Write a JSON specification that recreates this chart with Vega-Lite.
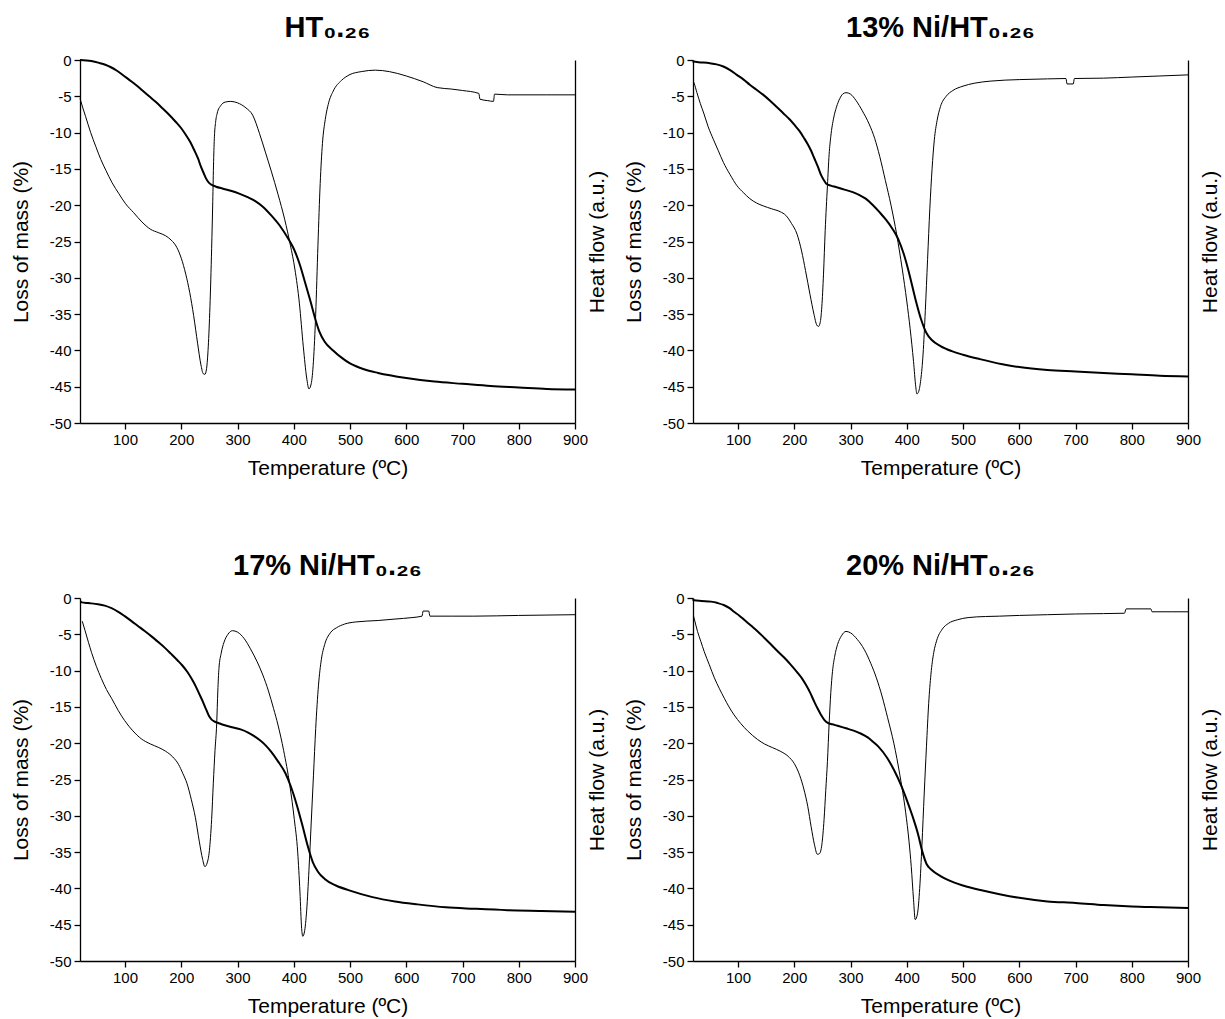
{
  "$schema": "https://vega.github.io/schema/vega-lite/v6.json",
  "background": "white",
  "padding": {"left": 10, "top": 14, "right": 2, "bottom": 2},
  "datasets": {
    "tga": [
      {"panel":"HT0.26","curve":"TG","temperature":20,"value":0},{"panel":"HT0.26","curve":"TG","temperature":40,"value":-0.15},{"panel":"HT0.26","curve":"TG","temperature":54,"value":-0.4},{"panel":"HT0.26","curve":"TG","temperature":65,"value":-0.65},{"panel":"HT0.26","curve":"TG","temperature":75,"value":-1.0},{"panel":"HT0.26","curve":"TG","temperature":85,"value":-1.45},{"panel":"HT0.26","curve":"TG","temperature":95,"value":-2.0},{"panel":"HT0.26","curve":"TG","temperature":107,"value":-2.7},{"panel":"HT0.26","curve":"TG","temperature":119,"value":-3.4},{"panel":"HT0.26","curve":"TG","temperature":131,"value":-4.2},{"panel":"HT0.26","curve":"TG","temperature":143,"value":-5.0},{"panel":"HT0.26","curve":"TG","temperature":155,"value":-5.8},{"panel":"HT0.26","curve":"TG","temperature":166,"value":-6.6},{"panel":"HT0.26","curve":"TG","temperature":178,"value":-7.5},{"panel":"HT0.26","curve":"TG","temperature":190,"value":-8.5},{"panel":"HT0.26","curve":"TG","temperature":200,"value":-9.4},{"panel":"HT0.26","curve":"TG","temperature":208,"value":-10.3},{"panel":"HT0.26","curve":"TG","temperature":216,"value":-11.3},{"panel":"HT0.26","curve":"TG","temperature":223,"value":-12.4},{"panel":"HT0.26","curve":"TG","temperature":230,"value":-13.6},{"panel":"HT0.26","curve":"TG","temperature":235,"value":-14.7},{"panel":"HT0.26","curve":"TG","temperature":240,"value":-15.6},{"panel":"HT0.26","curve":"TG","temperature":244,"value":-16.3},{"panel":"HT0.26","curve":"TG","temperature":249,"value":-16.9},{"panel":"HT0.26","curve":"TG","temperature":253,"value":-17.15},{"panel":"HT0.26","curve":"TG","temperature":262,"value":-17.45},{"panel":"HT0.26","curve":"TG","temperature":273,"value":-17.7},{"panel":"HT0.26","curve":"TG","temperature":288,"value":-18.0},{"panel":"HT0.26","curve":"TG","temperature":303,"value":-18.4},{"panel":"HT0.26","curve":"TG","temperature":318,"value":-18.9},{"panel":"HT0.26","curve":"TG","temperature":333,"value":-19.5},{"panel":"HT0.26","curve":"TG","temperature":345,"value":-20.2},{"panel":"HT0.26","curve":"TG","temperature":360,"value":-21.4},{"panel":"HT0.26","curve":"TG","temperature":375,"value":-22.8},{"panel":"HT0.26","curve":"TG","temperature":390,"value":-24.6},{"panel":"HT0.26","curve":"TG","temperature":400,"value":-26.0},{"panel":"HT0.26","curve":"TG","temperature":410,"value":-28.0},{"panel":"HT0.26","curve":"TG","temperature":420,"value":-30.6},{"panel":"HT0.26","curve":"TG","temperature":430,"value":-33.3},{"panel":"HT0.26","curve":"TG","temperature":438,"value":-35.6},{"panel":"HT0.26","curve":"TG","temperature":445,"value":-37.3},{"panel":"HT0.26","curve":"TG","temperature":455,"value":-38.8},{"panel":"HT0.26","curve":"TG","temperature":470,"value":-40.0},{"panel":"HT0.26","curve":"TG","temperature":485,"value":-41.0},{"panel":"HT0.26","curve":"TG","temperature":500,"value":-41.8},{"panel":"HT0.26","curve":"TG","temperature":525,"value":-42.6},{"panel":"HT0.26","curve":"TG","temperature":550,"value":-43.1},{"panel":"HT0.26","curve":"TG","temperature":600,"value":-43.8},{"panel":"HT0.26","curve":"TG","temperature":650,"value":-44.3},{"panel":"HT0.26","curve":"TG","temperature":700,"value":-44.6},{"panel":"HT0.26","curve":"TG","temperature":750,"value":-44.9},{"panel":"HT0.26","curve":"TG","temperature":800,"value":-45.1},{"panel":"HT0.26","curve":"TG","temperature":850,"value":-45.3},{"panel":"HT0.26","curve":"TG","temperature":900,"value":-45.4},

      {"panel":"HT0.26","curve":"DSC","temperature":20,"value":-5.3},{"panel":"HT0.26","curve":"DSC","temperature":25,"value":-6.6},{"panel":"HT0.26","curve":"DSC","temperature":30,"value":-7.8},{"panel":"HT0.26","curve":"DSC","temperature":39,"value":-10.0},{"panel":"HT0.26","curve":"DSC","temperature":48,"value":-11.9},{"panel":"HT0.26","curve":"DSC","temperature":57,"value":-13.7},{"panel":"HT0.26","curve":"DSC","temperature":66,"value":-15.2},{"panel":"HT0.26","curve":"DSC","temperature":77,"value":-16.9},{"panel":"HT0.26","curve":"DSC","temperature":89,"value":-18.4},{"panel":"HT0.26","curve":"DSC","temperature":101,"value":-19.8},{"panel":"HT0.26","curve":"DSC","temperature":115,"value":-21.0},{"panel":"HT0.26","curve":"DSC","temperature":130,"value":-22.3},{"panel":"HT0.26","curve":"DSC","temperature":145,"value":-23.3},{"panel":"HT0.26","curve":"DSC","temperature":160,"value":-23.8},{"panel":"HT0.26","curve":"DSC","temperature":172,"value":-24.2},{"panel":"HT0.26","curve":"DSC","temperature":182,"value":-24.8},{"panel":"HT0.26","curve":"DSC","temperature":192,"value":-25.8},{"panel":"HT0.26","curve":"DSC","temperature":200,"value":-27.3},{"panel":"HT0.26","curve":"DSC","temperature":208,"value":-29.5},{"panel":"HT0.26","curve":"DSC","temperature":215,"value":-32.0},{"panel":"HT0.26","curve":"DSC","temperature":222,"value":-35.2},{"panel":"HT0.26","curve":"DSC","temperature":229,"value":-39.0},{"panel":"HT0.26","curve":"DSC","temperature":235,"value":-42.0},{"panel":"HT0.26","curve":"DSC","temperature":239,"value":-43.2},{"panel":"HT0.26","curve":"DSC","temperature":242,"value":-43.3},{"panel":"HT0.26","curve":"DSC","temperature":245,"value":-42.5},{"panel":"HT0.26","curve":"DSC","temperature":248,"value":-39.5},{"panel":"HT0.26","curve":"DSC","temperature":251,"value":-34.0},{"panel":"HT0.26","curve":"DSC","temperature":254,"value":-26.0},{"panel":"HT0.26","curve":"DSC","temperature":256,"value":-19.5},{"panel":"HT0.26","curve":"DSC","temperature":257.5,"value":-14.0},{"panel":"HT0.26","curve":"DSC","temperature":259,"value":-10.5},{"panel":"HT0.26","curve":"DSC","temperature":261,"value":-8.6},{"panel":"HT0.26","curve":"DSC","temperature":264,"value":-7.3},{"panel":"HT0.26","curve":"DSC","temperature":270,"value":-6.3},{"panel":"HT0.26","curve":"DSC","temperature":278,"value":-5.8},{"panel":"HT0.26","curve":"DSC","temperature":288,"value":-5.7},{"panel":"HT0.26","curve":"DSC","temperature":300,"value":-5.9},{"panel":"HT0.26","curve":"DSC","temperature":315,"value":-6.6},{"panel":"HT0.26","curve":"DSC","temperature":327,"value":-7.6},{"panel":"HT0.26","curve":"DSC","temperature":339,"value":-10.1},{"panel":"HT0.26","curve":"DSC","temperature":350,"value":-12.8},{"panel":"HT0.26","curve":"DSC","temperature":360,"value":-15.3},{"panel":"HT0.26","curve":"DSC","temperature":372,"value":-18.5},{"panel":"HT0.26","curve":"DSC","temperature":384,"value":-22.0},{"panel":"HT0.26","curve":"DSC","temperature":394,"value":-25.5},{"panel":"HT0.26","curve":"DSC","temperature":402,"value":-28.8},{"panel":"HT0.26","curve":"DSC","temperature":410,"value":-33.5},{"panel":"HT0.26","curve":"DSC","temperature":417,"value":-39.5},{"panel":"HT0.26","curve":"DSC","temperature":423,"value":-43.8},{"panel":"HT0.26","curve":"DSC","temperature":427,"value":-45.3},{"panel":"HT0.26","curve":"DSC","temperature":431,"value":-44.6},{"panel":"HT0.26","curve":"DSC","temperature":435,"value":-41.5},{"panel":"HT0.26","curve":"DSC","temperature":439,"value":-35.0},{"panel":"HT0.26","curve":"DSC","temperature":443,"value":-25.5},{"panel":"HT0.26","curve":"DSC","temperature":447,"value":-17.0},{"panel":"HT0.26","curve":"DSC","temperature":451,"value":-11.5},{"panel":"HT0.26","curve":"DSC","temperature":456,"value":-8.2},{"panel":"HT0.26","curve":"DSC","temperature":462,"value":-5.9},{"panel":"HT0.26","curve":"DSC","temperature":470,"value":-4.3},{"panel":"HT0.26","curve":"DSC","temperature":485,"value":-2.8},{"panel":"HT0.26","curve":"DSC","temperature":500,"value":-2.0},{"panel":"HT0.26","curve":"DSC","temperature":520,"value":-1.6},{"panel":"HT0.26","curve":"DSC","temperature":545,"value":-1.4},{"panel":"HT0.26","curve":"DSC","temperature":570,"value":-1.6},{"panel":"HT0.26","curve":"DSC","temperature":600,"value":-2.2},{"panel":"HT0.26","curve":"DSC","temperature":630,"value":-3.0},{"panel":"HT0.26","curve":"DSC","temperature":655,"value":-3.8},{"panel":"HT0.26","curve":"DSC","temperature":680,"value":-4.0},{"panel":"HT0.26","curve":"DSC","temperature":700,"value":-4.2},{"panel":"HT0.26","curve":"DSC","temperature":729,"value":-4.6},{"panel":"HT0.26","curve":"DSC","temperature":731,"value":-5.4},{"panel":"HT0.26","curve":"DSC","temperature":745,"value":-5.6},{"panel":"HT0.26","curve":"DSC","temperature":755,"value":-5.7},{"panel":"HT0.26","curve":"DSC","temperature":757,"value":-4.7},{"panel":"HT0.26","curve":"DSC","temperature":780,"value":-4.8},{"panel":"HT0.26","curve":"DSC","temperature":850,"value":-4.8},{"panel":"HT0.26","curve":"DSC","temperature":900,"value":-4.8},

      {"panel":"13","curve":"TG","temperature":19,"value":-0.2},{"panel":"13","curve":"TG","temperature":30,"value":-0.3},{"panel":"13","curve":"TG","temperature":50,"value":-0.45},{"panel":"13","curve":"TG","temperature":62,"value":-0.6},{"panel":"13","curve":"TG","temperature":74,"value":-0.9},{"panel":"13","curve":"TG","temperature":86,"value":-1.4},{"panel":"13","curve":"TG","temperature":98,"value":-2.05},{"panel":"13","curve":"TG","temperature":110,"value":-2.7},{"panel":"13","curve":"TG","temperature":121,"value":-3.4},{"panel":"13","curve":"TG","temperature":133,"value":-4.1},{"panel":"13","curve":"TG","temperature":145,"value":-4.8},{"panel":"13","curve":"TG","temperature":157,"value":-5.6},{"panel":"13","curve":"TG","temperature":168,"value":-6.4},{"panel":"13","curve":"TG","temperature":180,"value":-7.3},{"panel":"13","curve":"TG","temperature":192,"value":-8.2},{"panel":"13","curve":"TG","temperature":201,"value":-9.0},{"panel":"13","curve":"TG","temperature":209.5,"value":-9.8},{"panel":"13","curve":"TG","temperature":217,"value":-10.7},{"panel":"13","curve":"TG","temperature":224,"value":-11.6},{"panel":"13","curve":"TG","temperature":230,"value":-12.5},{"panel":"13","curve":"TG","temperature":236,"value":-13.6},{"panel":"13","curve":"TG","temperature":242,"value":-14.7},{"panel":"13","curve":"TG","temperature":248,"value":-15.9},{"panel":"13","curve":"TG","temperature":253,"value":-16.6},{"panel":"13","curve":"TG","temperature":257,"value":-17.05},{"panel":"13","curve":"TG","temperature":265,"value":-17.3},{"panel":"13","curve":"TG","temperature":274,"value":-17.5},{"panel":"13","curve":"TG","temperature":289,"value":-17.85},{"panel":"13","curve":"TG","temperature":304,"value":-18.2},{"panel":"13","curve":"TG","temperature":316,"value":-18.6},{"panel":"13","curve":"TG","temperature":327,"value":-19.1},{"panel":"13","curve":"TG","temperature":340,"value":-20.0},{"panel":"13","curve":"TG","temperature":352,"value":-21.0},{"panel":"13","curve":"TG","temperature":363,"value":-22.0},{"panel":"13","curve":"TG","temperature":375,"value":-23.3},{"panel":"13","curve":"TG","temperature":385,"value":-24.7},{"panel":"13","curve":"TG","temperature":395,"value":-26.8},{"panel":"13","curve":"TG","temperature":405,"value":-29.6},{"panel":"13","curve":"TG","temperature":415,"value":-32.8},{"panel":"13","curve":"TG","temperature":425,"value":-35.6},{"panel":"13","curve":"TG","temperature":435,"value":-37.6},{"panel":"13","curve":"TG","temperature":445,"value":-38.6},{"panel":"13","curve":"TG","temperature":460,"value":-39.4},{"panel":"13","curve":"TG","temperature":480,"value":-40.1},{"panel":"13","curve":"TG","temperature":500,"value":-40.6},{"panel":"13","curve":"TG","temperature":530,"value":-41.2},{"panel":"13","curve":"TG","temperature":570,"value":-41.9},{"panel":"13","curve":"TG","temperature":600,"value":-42.3},{"panel":"13","curve":"TG","temperature":650,"value":-42.7},{"panel":"13","curve":"TG","temperature":700,"value":-42.9},{"panel":"13","curve":"TG","temperature":750,"value":-43.1},{"panel":"13","curve":"TG","temperature":800,"value":-43.3},{"panel":"13","curve":"TG","temperature":850,"value":-43.5},{"panel":"13","curve":"TG","temperature":900,"value":-43.6},

      {"panel":"13","curve":"DSC","temperature":21,"value":-3.0},{"panel":"13","curve":"DSC","temperature":22,"value":-3.2},{"panel":"13","curve":"DSC","temperature":27,"value":-4.5},{"panel":"13","curve":"DSC","temperature":33,"value":-6.0},{"panel":"13","curve":"DSC","temperature":39,"value":-7.3},{"panel":"13","curve":"DSC","temperature":47,"value":-9.2},{"panel":"13","curve":"DSC","temperature":56,"value":-10.9},{"panel":"13","curve":"DSC","temperature":65,"value":-12.5},{"panel":"13","curve":"DSC","temperature":74,"value":-14.1},{"panel":"13","curve":"DSC","temperature":86,"value":-15.8},{"panel":"13","curve":"DSC","temperature":98,"value":-17.3},{"panel":"13","curve":"DSC","temperature":110,"value":-18.3},{"panel":"13","curve":"DSC","temperature":121,"value":-19.1},{"panel":"13","curve":"DSC","temperature":133,"value":-19.7},{"panel":"13","curve":"DSC","temperature":145,"value":-20.1},{"panel":"13","curve":"DSC","temperature":160,"value":-20.5},{"panel":"13","curve":"DSC","temperature":175,"value":-20.9},{"panel":"13","curve":"DSC","temperature":185,"value":-21.4},{"panel":"13","curve":"DSC","temperature":195,"value":-22.5},{"panel":"13","curve":"DSC","temperature":205,"value":-24.0},{"panel":"13","curve":"DSC","temperature":213,"value":-26.3},{"panel":"13","curve":"DSC","temperature":220,"value":-29.0},{"panel":"13","curve":"DSC","temperature":228,"value":-32.3},{"panel":"13","curve":"DSC","temperature":235,"value":-35.0},{"panel":"13","curve":"DSC","temperature":240,"value":-36.5},{"panel":"13","curve":"DSC","temperature":243,"value":-36.7},{"panel":"13","curve":"DSC","temperature":246,"value":-36.2},{"panel":"13","curve":"DSC","temperature":249,"value":-34.0},{"panel":"13","curve":"DSC","temperature":252,"value":-29.5},{"panel":"13","curve":"DSC","temperature":255,"value":-23.5},{"panel":"13","curve":"DSC","temperature":259,"value":-17.3},{"panel":"13","curve":"DSC","temperature":262,"value":-13.0},{"panel":"13","curve":"DSC","temperature":265,"value":-10.5},{"panel":"13","curve":"DSC","temperature":270,"value":-8.0},{"panel":"13","curve":"DSC","temperature":275,"value":-6.5},{"panel":"13","curve":"DSC","temperature":281,"value":-5.3},{"panel":"13","curve":"DSC","temperature":286,"value":-4.7},{"panel":"13","curve":"DSC","temperature":292,"value":-4.5},{"panel":"13","curve":"DSC","temperature":300,"value":-4.7},{"panel":"13","curve":"DSC","temperature":310,"value":-5.6},{"panel":"13","curve":"DSC","temperature":321,"value":-7.0},{"panel":"13","curve":"DSC","temperature":333,"value":-8.8},{"panel":"13","curve":"DSC","temperature":343,"value":-10.8},{"panel":"13","curve":"DSC","temperature":352,"value":-13.3},{"panel":"13","curve":"DSC","temperature":362,"value":-16.6},{"panel":"13","curve":"DSC","temperature":372,"value":-20.0},{"panel":"13","curve":"DSC","temperature":382,"value":-24.0},{"panel":"13","curve":"DSC","temperature":392,"value":-28.8},{"panel":"13","curve":"DSC","temperature":400,"value":-33.2},{"panel":"13","curve":"DSC","temperature":406,"value":-37.0},{"panel":"13","curve":"DSC","temperature":412,"value":-41.5},{"panel":"13","curve":"DSC","temperature":416,"value":-45.0},{"panel":"13","curve":"DSC","temperature":418,"value":-46.0},{"panel":"13","curve":"DSC","temperature":421,"value":-45.7},{"panel":"13","curve":"DSC","temperature":425,"value":-44.0},{"panel":"13","curve":"DSC","temperature":429,"value":-40.5},{"panel":"13","curve":"DSC","temperature":433,"value":-34.5},{"panel":"13","curve":"DSC","temperature":437,"value":-27.5},{"panel":"13","curve":"DSC","temperature":441,"value":-20.5},{"panel":"13","curve":"DSC","temperature":445,"value":-15.0},{"panel":"13","curve":"DSC","temperature":449,"value":-11.0},{"panel":"13","curve":"DSC","temperature":454,"value":-8.3},{"panel":"13","curve":"DSC","temperature":460,"value":-6.4},{"panel":"13","curve":"DSC","temperature":470,"value":-5.0},{"panel":"13","curve":"DSC","temperature":482,"value":-4.2},{"panel":"13","curve":"DSC","temperature":500,"value":-3.6},{"panel":"13","curve":"DSC","temperature":520,"value":-3.2},{"panel":"13","curve":"DSC","temperature":550,"value":-2.9},{"panel":"13","curve":"DSC","temperature":600,"value":-2.7},{"panel":"13","curve":"DSC","temperature":650,"value":-2.6},{"panel":"13","curve":"DSC","temperature":683,"value":-2.55},{"panel":"13","curve":"DSC","temperature":685,"value":-3.3},{"panel":"13","curve":"DSC","temperature":696,"value":-3.3},{"panel":"13","curve":"DSC","temperature":698,"value":-2.55},{"panel":"13","curve":"DSC","temperature":750,"value":-2.5},{"panel":"13","curve":"DSC","temperature":800,"value":-2.35},{"panel":"13","curve":"DSC","temperature":850,"value":-2.2},{"panel":"13","curve":"DSC","temperature":900,"value":-2.05},

      {"panel":"17","curve":"TG","temperature":21,"value":-0.45},{"panel":"17","curve":"TG","temperature":23,"value":-0.6},{"panel":"17","curve":"TG","temperature":35,"value":-0.7},{"panel":"17","curve":"TG","temperature":52,"value":-0.85},{"panel":"17","curve":"TG","temperature":64,"value":-1.05},{"panel":"17","curve":"TG","temperature":76,"value":-1.4},{"panel":"17","curve":"TG","temperature":88,"value":-1.9},{"panel":"17","curve":"TG","temperature":99.5,"value":-2.5},{"panel":"17","curve":"TG","temperature":111,"value":-3.15},{"panel":"17","curve":"TG","temperature":123,"value":-3.85},{"panel":"17","curve":"TG","temperature":135,"value":-4.55},{"panel":"17","curve":"TG","temperature":146.5,"value":-5.25},{"panel":"17","curve":"TG","temperature":158,"value":-6.0},{"panel":"17","curve":"TG","temperature":170,"value":-6.8},{"panel":"17","curve":"TG","temperature":182,"value":-7.7},{"panel":"17","curve":"TG","temperature":193.6,"value":-8.6},{"panel":"17","curve":"TG","temperature":202,"value":-9.3},{"panel":"17","curve":"TG","temperature":211,"value":-10.2},{"panel":"17","curve":"TG","temperature":219,"value":-11.2},{"panel":"17","curve":"TG","temperature":226,"value":-12.2},{"panel":"17","curve":"TG","temperature":232,"value":-13.2},{"panel":"17","curve":"TG","temperature":238,"value":-14.2},{"panel":"17","curve":"TG","temperature":244,"value":-15.3},{"panel":"17","curve":"TG","temperature":249.6,"value":-16.3},{"panel":"17","curve":"TG","temperature":254,"value":-16.75},{"panel":"17","curve":"TG","temperature":258.5,"value":-17.0},{"panel":"17","curve":"TG","temperature":267,"value":-17.25},{"panel":"17","curve":"TG","temperature":276,"value":-17.5},{"panel":"17","curve":"TG","temperature":290,"value":-17.8},{"panel":"17","curve":"TG","temperature":305.5,"value":-18.1},{"panel":"17","curve":"TG","temperature":318,"value":-18.5},{"panel":"17","curve":"TG","temperature":329,"value":-19.0},{"panel":"17","curve":"TG","temperature":340,"value":-19.6},{"panel":"17","curve":"TG","temperature":350,"value":-20.3},{"panel":"17","curve":"TG","temperature":360,"value":-21.2},{"panel":"17","curve":"TG","temperature":372,"value":-22.5},{"panel":"17","curve":"TG","temperature":385,"value":-24.1},{"panel":"17","curve":"TG","temperature":395,"value":-26.0},{"panel":"17","curve":"TG","temperature":405,"value":-28.4},{"panel":"17","curve":"TG","temperature":415,"value":-31.2},{"panel":"17","curve":"TG","temperature":425,"value":-34.2},{"panel":"17","curve":"TG","temperature":434,"value":-36.4},{"panel":"17","curve":"TG","temperature":443,"value":-37.7},{"panel":"17","curve":"TG","temperature":455,"value":-38.7},{"panel":"17","curve":"TG","temperature":475,"value":-39.6},{"panel":"17","curve":"TG","temperature":500,"value":-40.3},{"panel":"17","curve":"TG","temperature":540,"value":-41.2},{"panel":"17","curve":"TG","temperature":580,"value":-41.8},{"panel":"17","curve":"TG","temperature":620,"value":-42.2},{"panel":"17","curve":"TG","temperature":670,"value":-42.6},{"panel":"17","curve":"TG","temperature":720,"value":-42.8},{"panel":"17","curve":"TG","temperature":780,"value":-43.0},{"panel":"17","curve":"TG","temperature":840,"value":-43.1},{"panel":"17","curve":"TG","temperature":900,"value":-43.2},

      {"panel":"17","curve":"DSC","temperature":24,"value":-3.2},{"panel":"17","curve":"DSC","temperature":29,"value":-4.5},{"panel":"17","curve":"DSC","temperature":35,"value":-6.1},{"panel":"17","curve":"DSC","temperature":40.5,"value":-7.5},{"panel":"17","curve":"DSC","temperature":49,"value":-9.4},{"panel":"17","curve":"DSC","temperature":58,"value":-11.1},{"panel":"17","curve":"DSC","temperature":67,"value":-12.6},{"panel":"17","curve":"DSC","temperature":76,"value":-13.8},{"panel":"17","curve":"DSC","temperature":88,"value":-15.5},{"panel":"17","curve":"DSC","temperature":99.5,"value":-16.9},{"panel":"17","curve":"DSC","temperature":114,"value":-18.3},{"panel":"17","curve":"DSC","temperature":129,"value":-19.4},{"panel":"17","curve":"DSC","temperature":145,"value":-20.1},{"panel":"17","curve":"DSC","temperature":160,"value":-20.6},{"panel":"17","curve":"DSC","temperature":172,"value":-21.1},{"panel":"17","curve":"DSC","temperature":185,"value":-21.9},{"panel":"17","curve":"DSC","temperature":195,"value":-22.9},{"panel":"17","curve":"DSC","temperature":203,"value":-24.2},{"panel":"17","curve":"DSC","temperature":210,"value":-25.5},{"panel":"17","curve":"DSC","temperature":218,"value":-27.8},{"panel":"17","curve":"DSC","temperature":225,"value":-30.2},{"panel":"17","curve":"DSC","temperature":232,"value":-33.5},{"panel":"17","curve":"DSC","temperature":238,"value":-36.0},{"panel":"17","curve":"DSC","temperature":242,"value":-37.0},{"panel":"17","curve":"DSC","temperature":246,"value":-36.5},{"panel":"17","curve":"DSC","temperature":250,"value":-34.8},{"panel":"17","curve":"DSC","temperature":254,"value":-30.5},{"panel":"17","curve":"DSC","temperature":257,"value":-25.5},{"panel":"17","curve":"DSC","temperature":260,"value":-21.0},{"panel":"17","curve":"DSC","temperature":263,"value":-17.3},{"panel":"17","curve":"DSC","temperature":265,"value":-12.8},{"panel":"17","curve":"DSC","temperature":267,"value":-9.7},{"panel":"17","curve":"DSC","temperature":271,"value":-7.6},{"panel":"17","curve":"DSC","temperature":276,"value":-6.1},{"panel":"17","curve":"DSC","temperature":283,"value":-5.0},{"panel":"17","curve":"DSC","temperature":291,"value":-4.5},{"panel":"17","curve":"DSC","temperature":300,"value":-4.7},{"panel":"17","curve":"DSC","temperature":312,"value":-5.6},{"panel":"17","curve":"DSC","temperature":323,"value":-7.0},{"panel":"17","curve":"DSC","temperature":335,"value":-8.8},{"panel":"17","curve":"DSC","temperature":345,"value":-10.6},{"panel":"17","curve":"DSC","temperature":355,"value":-12.8},{"panel":"17","curve":"DSC","temperature":364,"value":-15.2},{"panel":"17","curve":"DSC","temperature":372,"value":-17.5},{"panel":"17","curve":"DSC","temperature":382,"value":-21.0},{"panel":"17","curve":"DSC","temperature":393,"value":-25.8},{"panel":"17","curve":"DSC","temperature":401,"value":-30.5},{"panel":"17","curve":"DSC","temperature":407,"value":-35.0},{"panel":"17","curve":"DSC","temperature":411,"value":-40.5},{"panel":"17","curve":"DSC","temperature":414,"value":-45.5},{"panel":"17","curve":"DSC","temperature":416,"value":-46.6},{"panel":"17","curve":"DSC","temperature":419,"value":-46.0},{"panel":"17","curve":"DSC","temperature":423,"value":-43.0},{"panel":"17","curve":"DSC","temperature":427,"value":-37.5},{"panel":"17","curve":"DSC","temperature":431,"value":-31.0},{"panel":"17","curve":"DSC","temperature":435,"value":-24.5},{"panel":"17","curve":"DSC","temperature":439,"value":-18.0},{"panel":"17","curve":"DSC","temperature":444,"value":-12.0},{"panel":"17","curve":"DSC","temperature":449,"value":-8.5},{"panel":"17","curve":"DSC","temperature":455,"value":-6.4},{"panel":"17","curve":"DSC","temperature":465,"value":-4.8},{"panel":"17","curve":"DSC","temperature":476,"value":-4.1},{"panel":"17","curve":"DSC","temperature":490,"value":-3.6},{"panel":"17","curve":"DSC","temperature":510,"value":-3.3},{"panel":"17","curve":"DSC","temperature":550,"value":-3.1},{"panel":"17","curve":"DSC","temperature":580,"value":-2.9},{"panel":"17","curve":"DSC","temperature":610,"value":-2.7},{"panel":"17","curve":"DSC","temperature":628,"value":-2.5},{"panel":"17","curve":"DSC","temperature":630,"value":-1.8},{"panel":"17","curve":"DSC","temperature":640,"value":-1.8},{"panel":"17","curve":"DSC","temperature":642,"value":-2.5},{"panel":"17","curve":"DSC","temperature":680,"value":-2.5},{"panel":"17","curve":"DSC","temperature":720,"value":-2.5},{"panel":"17","curve":"DSC","temperature":800,"value":-2.4},{"panel":"17","curve":"DSC","temperature":900,"value":-2.3},

      {"panel":"20","curve":"TG","temperature":19,"value":-0.2},{"panel":"20","curve":"TG","temperature":22,"value":-0.3},{"panel":"20","curve":"TG","temperature":35,"value":-0.4},{"panel":"20","curve":"TG","temperature":52,"value":-0.5},{"panel":"20","curve":"TG","temperature":64,"value":-0.7},{"panel":"20","curve":"TG","temperature":75.6,"value":-1.0},{"panel":"20","curve":"TG","temperature":85,"value":-1.4},{"panel":"20","curve":"TG","temperature":93,"value":-1.9},{"panel":"20","curve":"TG","temperature":102,"value":-2.4},{"panel":"20","curve":"TG","temperature":111,"value":-3.0},{"panel":"20","curve":"TG","temperature":123,"value":-3.8},{"panel":"20","curve":"TG","temperature":135,"value":-4.6},{"panel":"20","curve":"TG","temperature":147,"value":-5.5},{"panel":"20","curve":"TG","temperature":158.7,"value":-6.4},{"panel":"20","curve":"TG","temperature":170,"value":-7.3},{"panel":"20","curve":"TG","temperature":182,"value":-8.2},{"panel":"20","curve":"TG","temperature":194,"value":-9.2},{"panel":"20","curve":"TG","temperature":206,"value":-10.3},{"panel":"20","curve":"TG","temperature":214,"value":-11.1},{"panel":"20","curve":"TG","temperature":221,"value":-12.0},{"panel":"20","curve":"TG","temperature":228,"value":-13.0},{"panel":"20","curve":"TG","temperature":235.7,"value":-14.3},{"panel":"20","curve":"TG","temperature":242,"value":-15.3},{"panel":"20","curve":"TG","temperature":247.6,"value":-16.1},{"panel":"20","curve":"TG","temperature":253,"value":-16.75},{"panel":"20","curve":"TG","temperature":259.5,"value":-17.2},{"panel":"20","curve":"TG","temperature":268,"value":-17.4},{"panel":"20","curve":"TG","temperature":277,"value":-17.6},{"panel":"20","curve":"TG","temperature":292,"value":-17.95},{"panel":"20","curve":"TG","temperature":306.8,"value":-18.3},{"panel":"20","curve":"TG","temperature":319,"value":-18.7},{"panel":"20","curve":"TG","temperature":330.6,"value":-19.2},{"panel":"20","curve":"TG","temperature":340,"value":-19.8},{"panel":"20","curve":"TG","temperature":350,"value":-20.5},{"panel":"20","curve":"TG","temperature":365,"value":-22.0},{"panel":"20","curve":"TG","temperature":378,"value":-23.8},{"panel":"20","curve":"TG","temperature":390,"value":-25.8},{"panel":"20","curve":"TG","temperature":400,"value":-27.8},{"panel":"20","curve":"TG","temperature":410,"value":-30.0},{"panel":"20","curve":"TG","temperature":420,"value":-32.5},{"panel":"20","curve":"TG","temperature":428,"value":-35.0},{"panel":"20","curve":"TG","temperature":435,"value":-36.6},{"panel":"20","curve":"TG","temperature":445,"value":-37.5},{"panel":"20","curve":"TG","temperature":460,"value":-38.3},{"panel":"20","curve":"TG","temperature":475,"value":-38.9},{"panel":"20","curve":"TG","temperature":500,"value":-39.6},{"panel":"20","curve":"TG","temperature":535,"value":-40.3},{"panel":"20","curve":"TG","temperature":565,"value":-40.8},{"panel":"20","curve":"TG","temperature":600,"value":-41.3},{"panel":"20","curve":"TG","temperature":650,"value":-41.8},{"panel":"20","curve":"TG","temperature":700,"value":-42.0},{"panel":"20","curve":"TG","temperature":750,"value":-42.3},{"panel":"20","curve":"TG","temperature":800,"value":-42.5},{"panel":"20","curve":"TG","temperature":850,"value":-42.6},{"panel":"20","curve":"TG","temperature":900,"value":-42.7},

      {"panel":"20","curve":"DSC","temperature":21,"value":-2.5},{"panel":"20","curve":"DSC","temperature":22,"value":-2.8},{"panel":"20","curve":"DSC","temperature":28,"value":-4.6},{"panel":"20","curve":"DSC","temperature":34,"value":-6.0},{"panel":"20","curve":"DSC","temperature":40,"value":-7.4},{"panel":"20","curve":"DSC","temperature":49,"value":-9.2},{"panel":"20","curve":"DSC","temperature":58,"value":-11.0},{"panel":"20","curve":"DSC","temperature":67,"value":-12.5},{"panel":"20","curve":"DSC","temperature":75.6,"value":-13.8},{"panel":"20","curve":"DSC","temperature":84,"value":-15.0},{"panel":"20","curve":"DSC","temperature":93,"value":-16.1},{"panel":"20","curve":"DSC","temperature":105,"value":-17.3},{"panel":"20","curve":"DSC","temperature":117,"value":-18.3},{"panel":"20","curve":"DSC","temperature":135,"value":-19.5},{"panel":"20","curve":"DSC","temperature":147,"value":-20.1},{"panel":"20","curve":"DSC","temperature":161,"value":-20.6},{"panel":"20","curve":"DSC","temperature":175,"value":-21.1},{"panel":"20","curve":"DSC","temperature":189,"value":-21.8},{"panel":"20","curve":"DSC","temperature":200,"value":-22.8},{"panel":"20","curve":"DSC","temperature":210,"value":-24.5},{"panel":"20","curve":"DSC","temperature":217,"value":-26.3},{"panel":"20","curve":"DSC","temperature":224,"value":-28.7},{"panel":"20","curve":"DSC","temperature":230,"value":-31.5},{"panel":"20","curve":"DSC","temperature":236,"value":-34.0},{"panel":"20","curve":"DSC","temperature":241,"value":-35.3},{"panel":"20","curve":"DSC","temperature":245,"value":-35.2},{"panel":"20","curve":"DSC","temperature":249,"value":-34.0},{"panel":"20","curve":"DSC","temperature":253,"value":-30.5},{"panel":"20","curve":"DSC","temperature":256,"value":-26.5},{"panel":"20","curve":"DSC","temperature":259,"value":-22.5},{"panel":"20","curve":"DSC","temperature":262,"value":-17.3},{"panel":"20","curve":"DSC","temperature":265,"value":-13.0},{"panel":"20","curve":"DSC","temperature":268,"value":-10.1},{"panel":"20","curve":"DSC","temperature":272,"value":-8.0},{"panel":"20","curve":"DSC","temperature":277,"value":-6.4},{"panel":"20","curve":"DSC","temperature":284,"value":-5.2},{"panel":"20","curve":"DSC","temperature":292,"value":-4.6},{"panel":"20","curve":"DSC","temperature":300,"value":-4.8},{"panel":"20","curve":"DSC","temperature":312,"value":-5.7},{"panel":"20","curve":"DSC","temperature":324.5,"value":-7.1},{"panel":"20","curve":"DSC","temperature":336,"value":-9.0},{"panel":"20","curve":"DSC","temperature":346,"value":-11.0},{"panel":"20","curve":"DSC","temperature":356,"value":-13.5},{"panel":"20","curve":"DSC","temperature":366,"value":-16.5},{"panel":"20","curve":"DSC","temperature":377,"value":-20.0},{"panel":"20","curve":"DSC","temperature":388,"value":-24.5},{"panel":"20","curve":"DSC","temperature":398,"value":-29.5},{"panel":"20","curve":"DSC","temperature":404,"value":-33.5},{"panel":"20","curve":"DSC","temperature":408,"value":-37.0},{"panel":"20","curve":"DSC","temperature":412,"value":-41.5},{"panel":"20","curve":"DSC","temperature":415,"value":-44.3},{"panel":"20","curve":"DSC","temperature":419,"value":-43.5},{"panel":"20","curve":"DSC","temperature":423,"value":-40.0},{"panel":"20","curve":"DSC","temperature":427,"value":-34.0},{"panel":"20","curve":"DSC","temperature":431,"value":-27.0},{"panel":"20","curve":"DSC","temperature":435,"value":-20.5},{"panel":"20","curve":"DSC","temperature":439,"value":-14.5},{"panel":"20","curve":"DSC","temperature":443,"value":-10.5},{"panel":"20","curve":"DSC","temperature":448,"value":-7.5},{"panel":"20","curve":"DSC","temperature":453,"value":-5.9},{"panel":"20","curve":"DSC","temperature":463,"value":-4.3},{"panel":"20","curve":"DSC","temperature":474,"value":-3.5},{"panel":"20","curve":"DSC","temperature":490,"value":-3.0},{"panel":"20","curve":"DSC","temperature":509,"value":-2.7},{"panel":"20","curve":"DSC","temperature":540,"value":-2.55},{"panel":"20","curve":"DSC","temperature":565,"value":-2.5},{"panel":"20","curve":"DSC","temperature":600,"value":-2.4},{"panel":"20","curve":"DSC","temperature":650,"value":-2.3},{"panel":"20","curve":"DSC","temperature":700,"value":-2.2},{"panel":"20","curve":"DSC","temperature":750,"value":-2.15},{"panel":"20","curve":"DSC","temperature":787,"value":-2.1},{"panel":"20","curve":"DSC","temperature":790,"value":-1.5},{"panel":"20","curve":"DSC","temperature":834,"value":-1.5},{"panel":"20","curve":"DSC","temperature":836,"value":-1.9},{"panel":"20","curve":"DSC","temperature":870,"value":-1.9},{"panel":"20","curve":"DSC","temperature":900,"value":-1.9}
    ]
  },
  "data": {"name": "tga"},
  "columns": 2,
  "spacing": {"row": 74, "column": 16},
  "concat": [
    {
      "width": 495, "height": 363,
      "title": "HT₀.₂₆",
      "transform": [{"filter": "datum.panel == 'HT0.26'"}],
      "layer": [
        {"transform": [{"filter": "datum.curve == 'TG'"}], "mark": {"type": "line", "color": "black", "strokeWidth": 2, "interpolate": "monotone"},
         "encoding": {"x": {"field": "temperature", "type": "quantitative", "scale": {"domain": [20, 900], "nice": false, "zero": false}, "axis": {"values": [100,200,300,400,500,600,700,800,900], "title": "Temperature (ºC)"}},
                      "y": {"field": "value", "type": "quantitative", "scale": {"domain": [-50, 0], "nice": false, "zero": false}, "axis": {"values": [-50,-45,-40,-35,-30,-25,-20,-15,-10,-5,0], "labelExpr": "'' + datum.value", "title": "Loss of mass (%)"}}}},
        {"transform": [{"filter": "datum.curve == 'DSC'"}], "mark": {"type": "line", "color": "black", "strokeWidth": 1, "interpolate": "monotone"},
         "encoding": {"x": {"field": "temperature", "type": "quantitative"},
                      "y": {"field": "value", "type": "quantitative", "scale": {"domain": [-50, 0], "nice": false, "zero": false}, "axis": {"orient": "right", "labels": false, "ticks": false, "title": "Heat flow (a.u.)", "titleAngle": 270, "titleBaseline": "top", "titlePadding": 11}}}}
      ],
      "resolve": {"scale": {"y": "independent"}}
    },
    {
      "width": 495, "height": 363,
      "title": "13% Ni/HT₀.₂₆",
      "transform": [{"filter": "datum.panel == '13'"}],
      "layer": [
        {"transform": [{"filter": "datum.curve == 'TG'"}], "mark": {"type": "line", "color": "black", "strokeWidth": 2, "interpolate": "monotone"},
         "encoding": {"x": {"field": "temperature", "type": "quantitative", "scale": {"domain": [20, 900], "nice": false, "zero": false}, "axis": {"values": [100,200,300,400,500,600,700,800,900], "title": "Temperature (ºC)"}},
                      "y": {"field": "value", "type": "quantitative", "scale": {"domain": [-50, 0], "nice": false, "zero": false}, "axis": {"values": [-50,-45,-40,-35,-30,-25,-20,-15,-10,-5,0], "labelExpr": "'' + datum.value", "title": "Loss of mass (%)"}}}},
        {"transform": [{"filter": "datum.curve == 'DSC'"}], "mark": {"type": "line", "color": "black", "strokeWidth": 1, "interpolate": "monotone"},
         "encoding": {"x": {"field": "temperature", "type": "quantitative"},
                      "y": {"field": "value", "type": "quantitative", "scale": {"domain": [-50, 0], "nice": false, "zero": false}, "axis": {"orient": "right", "labels": false, "ticks": false, "title": "Heat flow (a.u.)", "titleAngle": 270, "titleBaseline": "top", "titlePadding": 11}}}}
      ],
      "resolve": {"scale": {"y": "independent"}}
    },
    {
      "width": 495, "height": 363,
      "title": "17% Ni/HT₀.₂₆",
      "transform": [{"filter": "datum.panel == '17'"}],
      "layer": [
        {"transform": [{"filter": "datum.curve == 'TG'"}], "mark": {"type": "line", "color": "black", "strokeWidth": 2, "interpolate": "monotone"},
         "encoding": {"x": {"field": "temperature", "type": "quantitative", "scale": {"domain": [20, 900], "nice": false, "zero": false}, "axis": {"values": [100,200,300,400,500,600,700,800,900], "title": "Temperature (ºC)"}},
                      "y": {"field": "value", "type": "quantitative", "scale": {"domain": [-50, 0], "nice": false, "zero": false}, "axis": {"values": [-50,-45,-40,-35,-30,-25,-20,-15,-10,-5,0], "labelExpr": "'' + datum.value", "title": "Loss of mass (%)"}}}},
        {"transform": [{"filter": "datum.curve == 'DSC'"}], "mark": {"type": "line", "color": "black", "strokeWidth": 1, "interpolate": "monotone"},
         "encoding": {"x": {"field": "temperature", "type": "quantitative"},
                      "y": {"field": "value", "type": "quantitative", "scale": {"domain": [-50, 0], "nice": false, "zero": false}, "axis": {"orient": "right", "labels": false, "ticks": false, "title": "Heat flow (a.u.)", "titleAngle": 270, "titleBaseline": "top", "titlePadding": 11}}}}
      ],
      "resolve": {"scale": {"y": "independent"}}
    },
    {
      "width": 495, "height": 363,
      "title": "20% Ni/HT₀.₂₆",
      "transform": [{"filter": "datum.panel == '20'"}],
      "layer": [
        {"transform": [{"filter": "datum.curve == 'TG'"}], "mark": {"type": "line", "color": "black", "strokeWidth": 2, "interpolate": "monotone"},
         "encoding": {"x": {"field": "temperature", "type": "quantitative", "scale": {"domain": [20, 900], "nice": false, "zero": false}, "axis": {"values": [100,200,300,400,500,600,700,800,900], "title": "Temperature (ºC)"}},
                      "y": {"field": "value", "type": "quantitative", "scale": {"domain": [-50, 0], "nice": false, "zero": false}, "axis": {"values": [-50,-45,-40,-35,-30,-25,-20,-15,-10,-5,0], "labelExpr": "'' + datum.value", "title": "Loss of mass (%)"}}}},
        {"transform": [{"filter": "datum.curve == 'DSC'"}], "mark": {"type": "line", "color": "black", "strokeWidth": 1, "interpolate": "monotone"},
         "encoding": {"x": {"field": "temperature", "type": "quantitative"},
                      "y": {"field": "value", "type": "quantitative", "scale": {"domain": [-50, 0], "nice": false, "zero": false}, "axis": {"orient": "right", "labels": false, "ticks": false, "title": "Heat flow (a.u.)", "titleAngle": 270, "titleBaseline": "top", "titlePadding": 11}}}}
      ],
      "resolve": {"scale": {"y": "independent"}}
    }
  ],
  "config": {
    "font": "Liberation Sans",
    "view": {"stroke": null},
    "axis": {"grid": false, "domainColor": "black", "domainWidth": 1.3, "tickColor": "black", "tickSize": 6, "tickWidth": 1.3, "labelColor": "black", "labelFontSize": 15, "labelPadding": 3, "titleColor": "black", "titleFontSize": 21, "titleFontWeight": "normal"},
    "axisX": {"titlePadding": 10, "labelFlush": false},
    "axisLeft": {"titlePadding": 18},
    "title": {"fontSize": 29, "fontWeight": "bold", "color": "black", "offset": 10}
  }
}
